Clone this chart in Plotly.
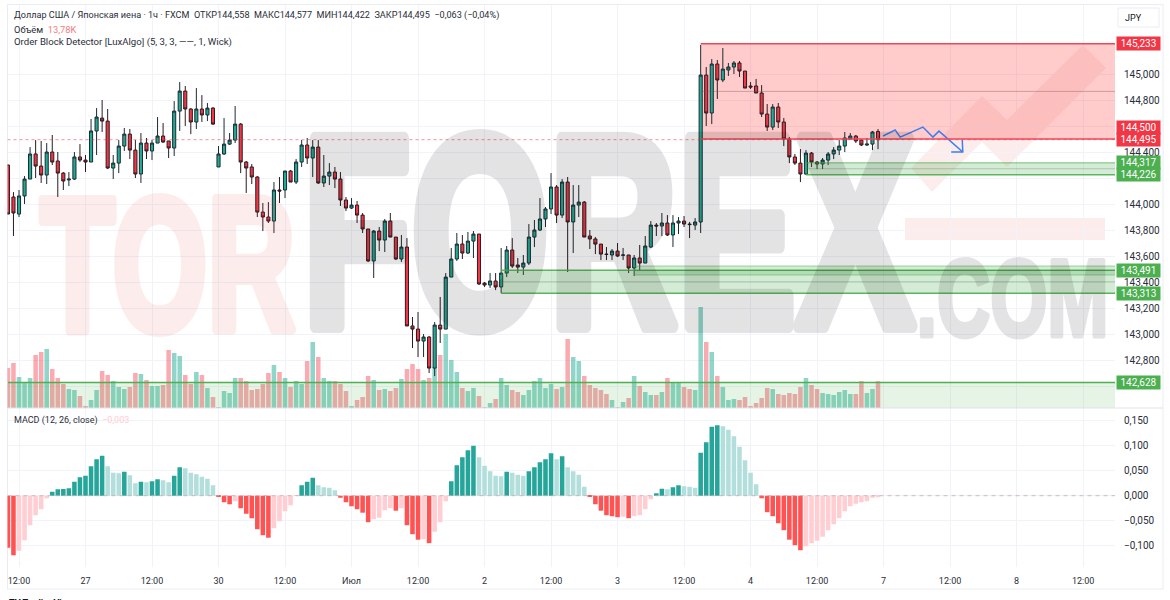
import plotly.graph_objects as go

# bar index 0 = the first 12:00 tick on the time axis, one bar per hour
bar_ids = list(range(-2, 156))

opens = [
    144.300, 144.054, 143.923, 144.062, 144.192, 144.385, 144.292, 144.223, 144.400, 144.331,
    144.238, 144.185, 144.192, 144.362, 144.338, 144.323, 144.562, 144.661, 144.638, 144.277,
    144.315, 144.446, 144.538, 144.415, 144.231, 144.469, 144.408, 144.469, 144.523, 144.485,
    144.431, 144.715, 144.869, 144.731, 144.631, 144.731, 144.685, 144.738, 144.285, 144.385,
    144.461, 144.492, 144.615, 144.323, 144.285, 144.208, 143.938, 143.900, 143.869, 144.108,
    144.108, 144.254, 144.169, 144.323, 144.454, 144.354, 144.438, 144.162, 144.215, 144.246,
    144.192, 144.031, 143.969, 143.992, 143.915, 143.808, 143.562, 143.792, 143.723, 143.869,
    143.746, 143.577, 143.669, 143.062, 143.038, 142.946, 142.977, 142.738, 143.069, 143.038,
    143.438, 143.577, 143.692, 143.623, 143.715, 143.769, 143.392, 143.377, 143.408, 143.362,
    143.469, 143.646, 143.531, 143.515, 143.546, 143.746, 143.800, 143.885, 143.962, 144.131,
    143.915, 144.169, 143.862, 143.992, 144.015, 143.754, 143.731, 143.692, 143.615, 143.608,
    143.638, 143.606, 143.608, 143.508, 143.585, 143.546, 143.669, 143.838, 143.831, 143.854,
    143.762, 143.854, 143.869, 143.846, 143.838, 143.862, 144.992, 144.700, 145.077, 144.954,
    145.031, 145.054, 145.085, 145.023, 144.908, 144.908, 144.854, 144.692, 144.592, 144.746,
    144.631, 144.500, 144.362, 144.315, 144.231, 144.392, 144.323, 144.308, 144.338, 144.385,
    144.415, 144.446, 144.500, 144.523, 144.492, 144.454, 144.461, 144.558,
]
highs = [
    144.300, 144.092, 144.108, 144.215, 144.438, 144.492, 144.485, 144.469, 144.531, 144.400,
    144.246, 144.246, 144.400, 144.461, 144.377, 144.654, 144.738, 144.800, 144.731, 144.377,
    144.492, 144.585, 144.577, 144.492, 144.546, 144.508, 144.492, 144.669, 144.623, 144.485,
    144.792, 144.938, 144.908, 144.738, 144.892, 144.838, 144.777, 144.746, 144.446, 144.661,
    144.546, 144.754, 144.623, 144.331, 144.308, 144.215, 144.008, 144.015, 144.169, 144.208,
    144.254, 144.262, 144.346, 144.492, 144.508, 144.492, 144.492, 144.377, 144.315, 144.285,
    144.246, 144.054, 144.046, 144.023, 143.931, 143.808, 143.800, 143.823, 143.885, 143.931,
    143.746, 143.762, 143.738, 143.131, 143.169, 143.000, 142.985, 143.092, 143.285, 143.469,
    143.662, 143.777, 143.762, 143.785, 143.792, 143.769, 143.400, 143.469, 143.469, 143.662,
    143.677, 143.738, 143.585, 143.608, 143.846, 143.877, 144.046, 143.977, 144.238, 144.146,
    144.192, 144.208, 144.146, 144.146, 144.023, 143.800, 143.746, 143.692, 143.669, 143.654,
    143.700, 143.662, 143.608, 143.608, 143.685, 143.754, 143.869, 143.854, 143.931, 143.915,
    143.915, 143.900, 143.908, 143.862, 143.892, 145.223, 145.054, 145.115, 145.108, 145.200,
    145.085, 145.100, 145.100, 145.023, 144.938, 144.962, 144.915, 144.769, 144.769, 144.777,
    144.662, 144.515, 144.385, 144.423, 144.415, 144.400, 144.331, 144.354, 144.400, 144.438,
    144.492, 144.554, 144.546, 144.531, 144.500, 144.508, 144.562, 144.577,
]
lows = [
    143.923, 143.754, 143.900, 144.000, 144.192, 144.200, 144.162, 144.154, 144.300, 144.054,
    144.108, 144.138, 144.185, 144.323, 144.246, 144.323, 144.377, 144.554, 144.269, 144.192,
    144.238, 144.408, 144.346, 144.200, 144.162, 144.346, 144.338, 144.469, 144.469, 144.354,
    144.369, 144.562, 144.600, 144.538, 144.577, 144.631, 144.638, 144.608, 144.285, 144.377,
    144.454, 144.469, 144.238, 144.085, 144.154, 143.900, 143.792, 143.854, 143.777, 144.008,
    144.046, 144.169, 144.154, 144.285, 144.308, 144.208, 144.154, 144.131, 144.146, 144.123,
    143.985, 143.946, 143.962, 143.854, 143.777, 143.554, 143.431, 143.638, 143.631, 143.746,
    143.569, 143.554, 143.062, 142.892, 142.823, 142.823, 142.700, 142.677, 142.931, 143.038,
    143.438, 143.562, 143.577, 143.615, 143.585, 143.377, 143.362, 143.354, 143.338, 143.315,
    143.438, 143.508, 143.469, 143.454, 143.531, 143.669, 143.792, 143.823, 143.923, 143.854,
    143.892, 143.477, 143.623, 143.900, 143.746, 143.654, 143.615, 143.569, 143.569, 143.569,
    143.592, 143.569, 143.469, 143.446, 143.485, 143.546, 143.662, 143.754, 143.754, 143.754,
    143.669, 143.769, 143.823, 143.738, 143.800, 143.777, 144.600, 144.615, 144.808, 144.938,
    144.985, 145.000, 144.977, 144.892, 144.885, 144.854, 144.669, 144.562, 144.569, 144.585,
    144.446, 144.315, 144.300, 144.169, 144.223, 144.285, 144.269, 144.269, 144.300, 144.346,
    144.377, 144.400, 144.500, 144.469, 144.446, 144.446, 144.415, 144.422,
]
closes = [
    143.923, 143.931, 144.062, 144.192, 144.385, 144.292, 144.223, 144.400, 144.323, 144.238,
    144.177, 144.192, 144.362, 144.338, 144.323, 144.562, 144.669, 144.638, 144.277, 144.315,
    144.446, 144.538, 144.415, 144.231, 144.469, 144.408, 144.469, 144.523, 144.477, 144.431,
    144.715, 144.869, 144.731, 144.631, 144.731, 144.685, 144.738, 144.615, 144.385, 144.461,
    144.492, 144.615, 144.323, 144.277, 144.208, 143.938, 143.900, 143.869, 144.108, 144.100,
    144.254, 144.169, 144.323, 144.454, 144.354, 144.438, 144.162, 144.215, 144.246, 144.192,
    144.031, 143.969, 143.992, 143.915, 143.808, 143.562, 143.792, 143.723, 143.869, 143.746,
    143.577, 143.669, 143.062, 143.038, 142.946, 142.977, 142.738, 143.069, 143.038, 143.438,
    143.577, 143.692, 143.623, 143.715, 143.769, 143.385, 143.377, 143.408, 143.362, 143.469,
    143.646, 143.523, 143.515, 143.546, 143.746, 143.800, 143.885, 143.962, 144.131, 143.915,
    144.169, 143.862, 143.992, 144.015, 143.746, 143.731, 143.692, 143.615, 143.612, 143.638,
    143.600, 143.608, 143.508, 143.585, 143.546, 143.677, 143.838, 143.831, 143.854, 143.762,
    143.854, 143.869, 143.846, 143.842, 143.862, 144.992, 144.700, 145.077, 144.954, 145.038,
    145.054, 145.085, 145.023, 144.892, 144.900, 144.854, 144.692, 144.592, 144.746, 144.631,
    144.500, 144.362, 144.315, 144.231, 144.392, 144.323, 144.308, 144.338, 144.385, 144.415,
    144.446, 144.508, 144.523, 144.485, 144.454, 144.461, 144.554, 144.495,
]
# thousands
volumes = [
    20.40, 22.95, 15.81, 13.26, 15.30, 27.03, 28.56, 30.09, 19.89, 15.30,
    12.24, 9.69, 9.18, 6.12, 1.02, 4.08, 9.18, 18.87, 16.83, 13.77,
    10.71, 9.69, 10.71, 17.85, 17.34, 14.28, 11.22, 11.22, 11.73, 29.58,
    28.05, 26.52, 16.83, 12.24, 18.36, 16.83, 10.20, 5.61, 0.51, 8.67,
    7.65, 15.30, 15.30, 13.77, 9.18, 9.69, 12.24, 17.85, 21.93, 18.36,
    15.30, 10.71, 13.77, 12.24, 23.97, 33.66, 26.01, 15.30, 13.77, 13.77,
    12.24, 8.67, 1.02, 4.08, 5.61, 16.32, 14.28, 9.18, 9.69, 8.67,
    10.20, 14.79, 19.89, 22.44, 19.89, 14.28, 15.30, 20.91, 27.03, 37.74,
    24.48, 18.36, 10.20, 8.67, 10.20, 6.12, 0.51, 2.55, 4.59, 15.30,
    11.73, 9.18, 8.16, 6.63, 9.18, 13.77, 15.30, 10.20, 12.24, 9.69,
    10.71, 35.19, 26.01, 23.97, 16.32, 11.73, 10.20, 9.18, 7.14, 4.08,
    0.51, 3.06, 5.10, 16.32, 11.22, 8.16, 6.63, 6.63, 8.16, 15.30,
    13.26, 13.26, 10.71, 9.69, 9.18, 51.51, 33.66, 28.56, 16.32, 10.71,
    4.08, 4.59, 4.08, 5.61, 1.02, 2.55, 5.10, 10.20, 9.69, 7.14,
    6.63, 7.65, 7.14, 10.71, 15.30, 11.73, 9.69, 7.65, 7.14, 6.63,
    8.16, 9.18, 7.14, 7.14, 13.77, 7.65, 9.69, 13.78,
]
macd_hist = [
    -0.104, -0.119, -0.110, -0.089, -0.059, -0.039, -0.027, -0.005, 0.008, 0.013,
    0.0135, 0.015, 0.028, 0.037, 0.040, 0.059, 0.073, 0.080, 0.059, 0.046,
    0.045, 0.048, 0.041, 0.025, 0.028, 0.027, 0.029, 0.033, 0.031, 0.027,
    0.040, 0.057, 0.055, 0.046, 0.043, 0.038, 0.034, 0.021, -0.002, -0.013,
    -0.017, -0.011, -0.025, -0.036, -0.045, -0.067, -0.079, -0.084, -0.065, -0.051,
    -0.031, -0.019, -0.0005, 0.021, 0.028, 0.036, 0.021, 0.017, 0.016, 0.011,
    -0.004, -0.013, -0.021, -0.027, -0.034, -0.053, -0.047, -0.044, -0.029, -0.025,
    -0.030, -0.025, -0.059, -0.077, -0.088, -0.087, -0.095, -0.072, -0.053, -0.011,
    0.029, 0.061, 0.077, 0.091, 0.100, 0.077, 0.060, 0.049, 0.040, 0.039,
    0.048, 0.046, 0.042, 0.040, 0.049, 0.057, 0.067, 0.073, 0.085, 0.073,
    0.079, 0.057, 0.049, 0.042, 0.018, -0.001, -0.017, -0.030, -0.039, -0.041,
    -0.043, -0.042, -0.045, -0.041, -0.039, -0.027, -0.007, 0.005, 0.014, 0.013,
    0.017, 0.021, 0.019, 0.018, 0.016, 0.086, 0.107, 0.138, 0.141, 0.139,
    0.132, 0.119, 0.098, 0.071, 0.046, 0.023, -0.005, -0.033, -0.041, -0.055,
    -0.069, -0.088, -0.099, -0.109, -0.101, -0.095, -0.090, -0.082, -0.069, -0.057,
    -0.045, -0.031, -0.021, -0.016, -0.013, -0.011, -0.004, -0.003,
]

price_ticks = [145.0, 144.8, 144.6, 144.4, 144.2, 144.0, 143.8, 143.6, 143.4, 143.2, 143.0, 142.8, 142.6]
price_labels = ["145,000", "144,800", "", "144,400", "", "144,000", "143,800", "143,600", "143,400",
                "143,200", "143,000", "142,800", ""]
macd_ticks = [0.15, 0.10, 0.05, 0.0, -0.05, -0.10]
macd_labels = ["0,150", "0,100", "0,050", "0,000", "−0,050", "−0,100"]
time_ticks = [0, 12, 24, 36, 48, 60, 72, 84, 96, 108, 120, 132, 144, 156, 168, 180, 192]
time_labels = ["12:00", "27", "12:00", "30", "12:00", "Июл", "12:00", "2", "12:00", "3", "12:00", "4",
               "12:00", "7", "12:00", "8", "12:00"]

# order blocks: start bar, top, bottom, opacity of the top and bottom edges
red_block = (123, 145.233, 144.500)
green_blocks = [
    (87, 143.491, 143.313, 0.9, 0.9),
    (111, 143.523, 143.454, 0.35, 0.35),
    (142, 144.317, 144.226, 0.5, 0.9),
]
volume_block = (-2, 142.628, 142.431)

forecast_x = [155.9, 158.1, 159.0, 163.1, 164.9, 166.0, 170.3, 170.2, 170.3, 168.2]
forecast_y = [144.523, 144.569, 144.515, 144.592, 144.515, 144.561, 144.400, 144.492, 144.400, 144.400]

# price scale tags: value, fill colour, pixel nudge so they do not collide
price_tags = [
    (145.233, "#F23645", 0), (144.500, "#F23645", 12), (144.495, "#F23645", 0),
    (144.317, "#4CAF50", 0), (144.226, "#4CAF50", 0), (143.491, "#4CAF50", 0),
    (143.313, "#4CAF50", 0), (142.628, "#4CAF50", 0),
]

FONT = "Roboto, 'Liberation Sans', sans-serif"
WIDTH, HEIGHT = 1170, 600
X_START, X_END = -2.075, 197.76
PRICE_BOTTOM, PRICE_TOP = 142.431, 145.531
VOLUME_TO_PRICE = 0.015083  # volume shares the price axis, scaled so the bars stay at the pane bottom
GRID = "#F0F3FA"
UP, DOWN = "#22AB94", "#F23645"


def px_y(y):
    return 1 - y / HEIGHT


def px_x(x):
    return x / WIDTH


vol_colors = ["rgba(34,171,148,0.5)" if c >= o else "rgba(242,54,69,0.42)" for o, c in zip(opens, closes)]

hist_colors = []
prev = 0
for h in macd_hist:
    if h >= 0:
        hist_colors.append("#26A69A" if h > prev else "#B2DFDB")
    else:
        hist_colors.append("#FF5252" if h < prev else "#FFCDD2")
    prev = h

fig = go.Figure()
fig.add_trace(go.Bar(x=bar_ids, y=[v * VOLUME_TO_PRICE for v in volumes], base=PRICE_BOTTOM,
                     marker=dict(color=vol_colors, line_width=0), width=0.82,
                     xaxis="x", yaxis="y", hoverinfo="skip"))
fig.add_trace(go.Candlestick(
    x=bar_ids, open=opens, high=highs, low=lows, close=closes, xaxis="x", yaxis="y", whiskerwidth=0,
    increasing=dict(fillcolor=UP, line=dict(color="#1C2B33", width=1)),
    decreasing=dict(fillcolor=DOWN, line=dict(color="#2A1C22", width=1)),
))
fig.add_trace(go.Scatter(x=forecast_x, y=forecast_y, mode="lines", xaxis="x", yaxis="y",
                         line=dict(color="#3D7EF0", width=1.5), hoverinfo="skip"))
fig.add_trace(go.Bar(x=bar_ids, y=macd_hist, marker=dict(color=hist_colors, line_width=0), width=0.82,
                     xaxis="x2", yaxis="y2", hoverinfo="skip"))

shapes = []
# watermark logo, sits under everything
shapes.append(dict(type="path", xref="paper", yref="paper", layer="below", line_width=0,
                   fillcolor="rgba(235,70,70,0.10)",
                   path="M %f %f L %f %f L %f %f L %f %f L %f %f L %f %f L %f %f L %f %f Z" % (
                       px_x(911), px_y(168), px_x(982), px_y(96), px_x(1007), px_y(120), px_x(1083), px_y(45),
                       px_x(1106), px_y(68), px_x(1007), px_y(167), px_x(982), px_y(142), px_x(932), px_y(192))))
shapes.append(dict(type="rect", xref="paper", yref="paper", layer="below", line_width=0,
                   fillcolor="rgba(235,70,70,0.10)",
                   x0=px_x(905), x1=px_x(1105), y0=px_y(218), y1=px_y(240)))


def add_hline(start, value, color, width=1.5, dash="solid"):
    shapes.append(dict(type="line", xref="x", yref="y", x0=start, x1=X_END, y0=value, y1=value,
                       line=dict(color=color, width=width, dash=dash)))


def add_zone(start, top, bottom, fill, layer):
    shapes.append(dict(type="rect", xref="x", yref="y", x0=start, x1=X_END, y0=bottom, y1=top,
                       fillcolor=fill, line_width=0, layer=layer))


start, top, bottom = red_block
add_zone(start, top, bottom, "rgba(255,82,82,0.30)", "between")
add_hline(start, top, "#F0465A")
add_hline(start, bottom, "#F0465A")
add_hline(start, (top + bottom) / 2, "rgba(120,90,90,0.4)", width=1)
for start, top, bottom, top_alpha, bottom_alpha in green_blocks:
    add_zone(start, top, bottom, "rgba(76,175,80,0.24)", "above")
    add_hline(start, top, f"rgba(76,175,80,{top_alpha})")
    add_hline(start, bottom, f"rgba(76,175,80,{bottom_alpha})")
    add_hline(start, (top + bottom) / 2, "rgba(70,110,70,0.3)", width=1)
start, top, bottom = volume_block
add_zone(start, top, bottom, "rgba(76,175,80,0.14)", "above")
add_hline(start, top, "#4CAF50")
# last price line
add_hline(X_START, closes[-1], "rgba(242,54,69,0.55)", width=1, dash="dot")
# macd zero line
shapes.append(dict(type="line", xref="x2", yref="y2", x0=X_START, x1=X_END, y0=0, y1=0,
                   line=dict(color="rgba(200,170,175,0.8)", width=1, dash="4px,4px")))
# frame, pane separator, JPY button
shapes.append(dict(type="rect", xref="paper", yref="paper", x0=px_x(7.5), x1=px_x(1163), y0=px_y(589), y1=px_y(4.5),
                   line=dict(color="#E9ECF2", width=1), layer="below"))
shapes.append(dict(type="line", xref="paper", yref="paper", x0=px_x(7.5), x1=px_x(1163), y0=px_y(408), y1=px_y(408),
                   line=dict(color="#E0E3EB", width=1)))
shapes.append(dict(type="rect", xref="paper", yref="paper", x0=px_x(1118), x1=px_x(1159), y0=px_y(27), y1=px_y(8),
                   line=dict(color="#E9ECF2", width=1), fillcolor="white"))

annotations = []


def note(text, x, y, size=9, color="#2A2E39", anchor="left", **kw):
    annotations.append(dict(text=text, xref="paper", yref="paper", x=px_x(x), y=px_y(y), xanchor=anchor,
                            yanchor="middle", showarrow=False, font=dict(family=FONT, size=size, color=color), **kw))


WM_FONT = "'Liberation Sans Narrow', 'Liberation Sans', sans-serif"
for text, x, y, size, color in [
    ("TOR", 168, 264, 190, "rgb(235,60,60)"),
    ("FOREX", 609, 232, 272, "rgb(0,0,0)"),
    (".COM", 1012, 298, 110, "rgb(0,0,0)"),
]:
    annotations.append(dict(text=text, xref="paper", yref="paper", x=px_x(x), y=px_y(y), xanchor="center",
                            yanchor="middle", showarrow=False,
                            font=dict(family=WM_FONT, size=size, color=color, weight=700)))

note("Доллар США / Японская иена · 1ч · FXCM  ОТКР144,558  МАКС144,577  МИН144,422  ЗАКР144,495  "
     "−0,063 (−0,04%)", 12, 16, size=9.1)
note("Объём  <span style='color:#F77C80'>13,78K</span>", 12, 29, size=9.3)
note("Order Block Detector [LuxAlgo] (5, 3, 3, ——, 1, Wick)", 12, 42, size=9.6)
note("MACD (12, 26, close)  <span style='color:#FFCDD2'>−0,003</span>", 12, 420)
note("JPY", 1123, 18, size=9, color="#131722")
note("<b>TV TradingView</b>", 7, 603, size=9, color="#131722")

for value, color, nudge in price_tags:
    annotations.append(dict(text=f"{value:.3f}".replace(".", ","), xref="paper", yref="y", x=px_x(1115.5), y=value,
                            yshift=nudge, xanchor="left", yanchor="middle", showarrow=False, bgcolor=color,
                            width=41, height=11, borderpad=1, align="center",
                            font=dict(family=FONT, size=10, color="white")))

axis_style = dict(showline=False, zeroline=False, gridcolor=GRID, gridwidth=1)
fig.update_layout(
    width=WIDTH, height=HEIGHT, margin=dict(l=0, r=0, t=0, b=0), paper_bgcolor="white", plot_bgcolor="white",
    showlegend=False, barmode="overlay", boxgap=0.2, shapes=shapes, annotations=annotations,
    font=dict(family=FONT, size=9, color="#2A2E39"),
    xaxis=dict(domain=[px_x(7.5), px_x(1115)], range=[X_START, X_END], anchor="y", tickvals=time_ticks,
               showticklabels=False, rangeslider=dict(visible=False), **axis_style),
    xaxis2=dict(domain=[px_x(7.5), px_x(1115)], range=[X_START, X_END], anchor="y2", matches="x", tickvals=time_ticks,
                ticktext=time_labels, ticks="outside", ticklen=5, tickcolor="rgba(0,0,0,0)", **axis_style),
    yaxis=dict(domain=[px_y(408), px_y(5)], range=[PRICE_BOTTOM, PRICE_TOP], side="right", anchor="x",
               tickvals=price_ticks, ticktext=price_labels, ticks="outside", ticklen=6, tickcolor="rgba(0,0,0,0)",
               tickfont=dict(size=10), **axis_style),
    yaxis2=dict(domain=[px_y(567), px_y(408)], range=[-0.1426, 0.1754], side="right", anchor="x2",
                tickvals=macd_ticks, ticktext=macd_labels, ticks="outside", ticklen=6, tickcolor="rgba(0,0,0,0)",
                tickfont=dict(size=10), **axis_style),
)

# stretch and thicken the watermark words, drop the page margin
post = """
document.body.style.margin = '0';
var gd = document.getElementById('{plot_id}');
var fit = {'TOR': [255, 10, 0.09], 'FOREX': [612, 14, 0.105], '.COM': [192, 5, 0.105]};
function fitWatermark() {
  gd.querySelectorAll('.annotation-text').forEach(function (t) {
    var f = fit[t.textContent];
    if (f) {
      t.setAttribute('textLength', f[0]);
      t.setAttribute('lengthAdjust', 'spacingAndGlyphs');
      t.style.stroke = t.style.fill;
      t.style.strokeWidth = f[1] + 'px';
      t.style.strokeLinejoin = 'round';
      t.style.opacity = f[2];
    }
  });
}
fitWatermark();
gd.on('plotly_afterplot', fitWatermark);
"""
fig.write_html("out.html", post_script=post, config=dict(displayModeBar=False))
